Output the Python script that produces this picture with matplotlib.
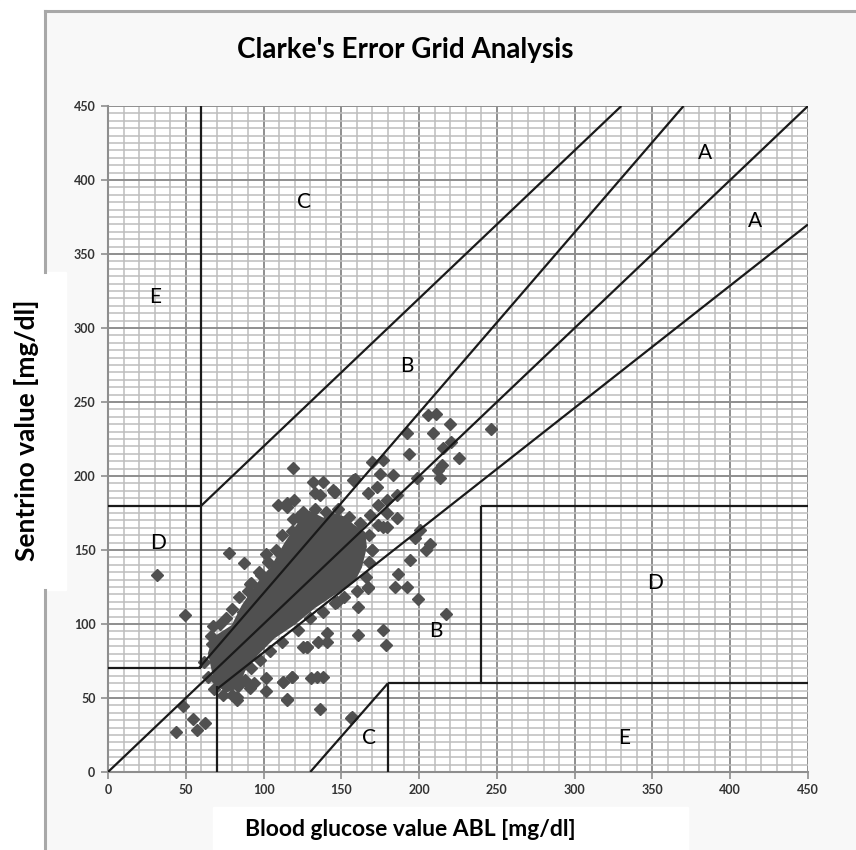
import matplotlib
matplotlib.use('Agg')
import matplotlib.pyplot as plt
from matplotlib.patches import Polygon, Rectangle
from matplotlib.lines import Line2D
import numpy as np

# scattered readings (reference ABL, Sentrino)
ref_vals = [48, 54.4, 62.3, 57, 43.7, 82.7, 114.8, 67.7, 67, 69.4, 76.3, 83.7, 82.7, 91.3,
            93.8, 101.5, 101.5, 112.3, 118.5, 114.8, 125.3, 119.1, 78, 87.4, 31.7, 49.5,
            101.5, 91.7, 114.8, 109.4, 119.5, 132, 138.4, 144.8, 136.2, 158.7, 169.5, 177,
            183.4, 172.7, 179.5, 168.4, 177, 167.3, 184.4, 177, 178.7, 160.9, 141.1, 140.9,
            127.7, 134.5, 138, 118, 112.7, 136.2, 156.6, 133, 145.2, 157.7, 115.2, 125.5,
            119.1, 114.4, 98.1, 91.3, 87, 205.9, 210.8, 219.8, 246, 209, 192, 220.8, 215.5,
            225.7, 193.2, 215, 212.3, 174.8, 213.4, 198.4, 167.3, 145.8, 185.5, 173.7,
            179.1, 185.5, 173.7, 179.1, 200.5, 197.3, 207, 204.2, 169.5, 194.1, 186.6,
            192.4, 167.3, 199.4, 217.2, 160.9, 147, 130.8, 128.1, 155.9, 68.3, 135.1]
sen_vals = [44.6, 35.6, 33.3, 28.4, 27.2, 48.6, 48.6, 98.6, 86.5, 62.8, 58.8, 58.1, 50.7, 56.8,
            60.1, 63.5, 55, 60.6, 64, 49.1, 84.7, 205.2, 147.8, 141, 133.1, 106.1,
            147.3, 127.5, 179.3, 180.1, 183.8, 196.2, 196.2, 190.5, 187.2, 197.8, 209.7, 210.8,
            200.7, 192.8, 183.8, 173.6, 165.7, 124, 125.2, 95.9, 85.8, 92.6, 94.1, 88,
            84.7, 64, 64.4, 64.4, 61, 42.4, 37.4, 188.3, 189.4, 197.3, 181.5, 175.7,
            170.7, 146.6, 133.1, 127, 108.3, 241.2, 241.9, 235.1, 231.5, 228.8, 228.8, 223, 218.7,
            211.9, 214.9, 207.4, 204, 201.4, 198.4, 198.4, 188.3, 189.4, 187.2, 180.4,
            174.8, 171.4, 166.9, 165.7, 163.5, 157.9, 154.1, 150, 150, 143.2, 133.8,
            125.2, 124.8, 116.6, 106.8, 111.7, 114.8, 63.3, 84.7, 36.8, 87.2, 88]

# readings along the ragged rim of the dense core
rim_x = [72, 76, 80, 84, 90, 97, 103, 108, 112, 118, 122, 133, 140, 148, 155, 162, 168, 170,
         168, 166, 160, 152, 146, 138, 130, 122, 112, 104, 98, 92, 88, 80, 74, 68, 64, 62, 66]
rim_y = [100, 104, 110, 118, 122, 135, 142, 150, 160, 163, 172, 178, 176, 178, 172, 168, 160, 150,
         142, 132, 122, 118, 114, 108, 104, 96, 88, 82, 76, 70, 62, 52, 52, 56, 64, 74, 92]

# outline of the dense core of the scatter
cloud_x = [65.6, 68.8, 80.5, 87, 95.6, 106.2, 114.8, 123.4, 129.8, 138.4, 144.8, 151.2, 157.7,
           164.1, 165.1, 162, 157.7, 144.8, 132, 119.1, 106.2, 95.6, 87, 82.7, 76.3, 69.8]
cloud_y = [80.2, 90.3, 98.2, 111.7, 125.2, 138.7, 154.5, 168, 174.8, 170.3, 173.6, 171.4, 165.7,
           161.3, 152.2, 138.7, 129.7, 120.7, 111.7, 100.5, 91.4, 80.2, 68.9, 57.6, 55.4, 59.9]

# zone boundaries
zone_x = [[0, 450], [0, 60], [60, 60], [60, 330], [0, 60], [58.3, 370], [70, 450],
          [70, 70], [130, 180], [180, 180], [180, 450], [240, 240], [240, 450]]
zone_y = [[0, 450], [180, 180], [70, 450], [180, 450], [70, 70], [70, 450], [56, 370],
          [0, 58], [0, 60], [0, 60], [60, 60], [60, 180], [180, 180]]

zone_names = ['A', 'A', 'B', 'B', 'C', 'C', 'D', 'D', 'E', 'E']
name_x = [384, 416, 192, 211, 126, 168, 32, 352, 30, 332]
name_y = [418, 372, 274, 95, 385, 23, 155, 128, 321, 23]

ticks = [0, 50, 100, 150, 200, 250, 300, 350, 400, 450]

fig = plt.figure(figsize=(8.56, 8.5), dpi=100)
fig.patch.set_facecolor('#f8f8f8')
W, H = 856, 850

# white patches of the original page and the outer frame
fig.add_artist(Rectangle((0, 0), 45 / W, 1, transform=fig.transFigure, color='white', zorder=0))
fig.add_artist(Rectangle((0, 1 - 11 / H), 1, 11 / H, transform=fig.transFigure, color='white', zorder=0))
fig.add_artist(Rectangle((0, 1 - 590 / H), 66 / W, 318 / H, transform=fig.transFigure, color='white', zorder=1))
fig.add_artist(Rectangle((213 / W, 0), 475 / W, 43 / H, transform=fig.transFigure, color='white', zorder=1))
fig.add_artist(Line2D([45 / W, 1], [1 - 11 / H, 1 - 11 / H], transform=fig.transFigure, color='#a8a8a8', lw=2.2))
fig.add_artist(Line2D([45 / W, 45 / W], [1 - 11 / H, 1 - 272 / H], transform=fig.transFigure, color='#a8a8a8', lw=2.2))
fig.add_artist(Line2D([45 / W, 45 / W], [1 - 590 / H, 0], transform=fig.transFigure, color='#a8a8a8', lw=2.2))

ax = fig.add_axes([108 / W, 1 - 772 / H, 700 / W, 666 / H])
ax.set_facecolor('white')
ax.set_xlim(0, 450)
ax.set_ylim(0, 450)

ax.set_xticks(ticks)
ax.set_yticks(ticks)
ax.set_xticks(np.arange(0, 451, 10), minor=True)
ax.set_yticks(np.arange(0, 451, 5), minor=True)
ax.grid(which='minor', color='#bdbdbd', lw=1.1, zorder=0)
ax.grid(which='major', color='#8e8e8e', lw=1.4, zorder=0)
ax.set_axisbelow(True)
ax.tick_params(which='minor', length=0)
ax.tick_params(which='major', length=5, width=1.2, color='#8e8e8e', pad=4)
for lab in ax.get_xticklabels() + ax.get_yticklabels():
    lab.set_family('Lato')
    lab.set_fontsize(9)
    lab.set_fontweight('bold')
    lab.set_color('#333333')
for s in ['top', 'right']:
    ax.spines[s].set_visible(False)
for s in ['left', 'bottom']:
    ax.spines[s].set_color('#8e8e8e')
    ax.spines[s].set_linewidth(1.5)

ax.add_patch(Polygon(np.column_stack([cloud_x, cloud_y]), closed=True,
                     facecolor='#505050', edgecolor='#505050', lw=3, zorder=2))
ax.plot(rim_x, rim_y, 'D', color='#505050', ms=6.5, zorder=3)
ax.plot(ref_vals, sen_vals, 'D', color='#505050', ms=6.5, zorder=3)

for xs, ys in zip(zone_x, zone_y):
    ax.plot(xs, ys, '-', color='#1a1a1a', lw=1.6, zorder=4, solid_capstyle='butt')

for n, x, y in zip(zone_names, name_x, name_y):
    ax.text(x, y, n, fontsize=15, family='Lato', ha='center', va='center', zorder=5)

fig.text(405 / W, 1 - 50 / H, "Clarke's Error Grid Analysis", fontsize=20, family='Lato',
         fontweight='bold', ha='center', va='center')
fig.text(410 / W, 1 - 830 / H, 'Blood glucose value ABL [mg/dl]', fontsize=16.5, family='Lato',
         fontweight='bold', ha='center', va='center', zorder=3)
fig.text(27 / W, 1 - 430 / H, 'Sentrino value [mg/dl]', fontsize=19, family='Lato',
         fontweight='bold', ha='center', va='center', rotation=90, zorder=3)

plt.savefig('out.png', dpi=100)
